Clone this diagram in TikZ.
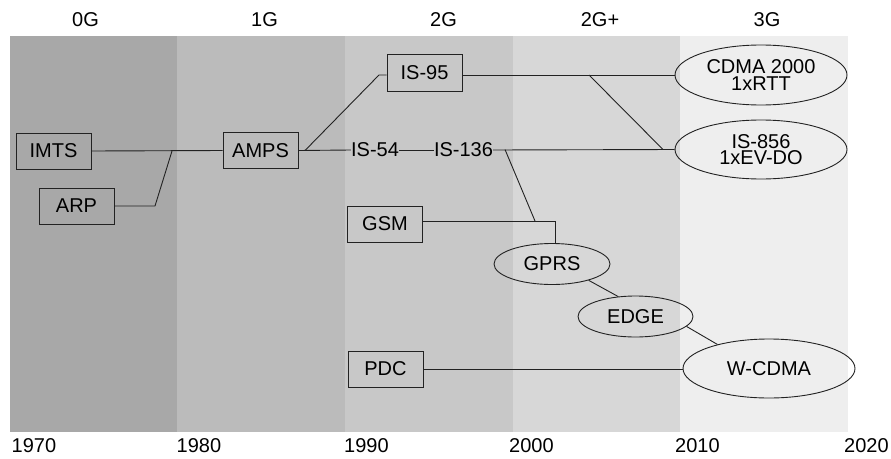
\documentclass[tikz,border=0pt]{standalone}
\usepackage{fontspec}
\setmainfont{Liberation Sans}
\usetikzlibrary{shapes.geometric}
\definecolor{bandA}{HTML}{A8A8A8}
\definecolor{bandB}{HTML}{BBBBBB}
\definecolor{bandC}{HTML}{C8C8C8}
\definecolor{bandD}{HTML}{D7D7D7}
\definecolor{bandE}{HTML}{EEEEEE}
\definecolor{edgecol}{HTML}{222222}
\tikzset{
  txt/.style={font=\fontsize{20}{16.6}\selectfont, inner sep=0pt, align=center},
  tbox/.style={txt, draw=edgecol, line width=0.9pt, rectangle, minimum width=75pt, minimum height=36pt},
  tell/.style={txt, draw=edgecol, line width=0.9pt, ellipse},
  conn/.style={draw=edgecol, line width=0.9pt},
}
\begin{document}
\begin{tikzpicture}[x=1pt,y=-1pt]
\useasboundingbox (0,0) rectangle (891,458);
\fill[white] (0,0) rectangle (891,458);
% bands
\fill[bandA] (10,36) rectangle (177,432);
\fill[bandB] (177,36) rectangle (345,432);
\fill[bandC] (345,36) rectangle (513,432);
\fill[bandD] (513,36) rectangle (680,432);
\fill[bandE] (680,36) rectangle (848,432);
% headers
\node[txt] (h0) at (85.5,20) {0G};
\node[txt] (h1) at (264.5,20) {1G};
\node[txt] (h2) at (443.5,20) {2G};
\node[txt] (h3) at (600,20) {2G+};
\node[txt] (h4) at (767,20) {3G};
% years
\node[txt,anchor=west] (y1) at (11.5,446) {1970};
\node[txt,anchor=west] (y2) at (176.5,446) {1980};
\node[txt,anchor=west] (y3) at (344,446) {1990};
\node[txt,anchor=west] (y4) at (509,446) {2000};
\node[txt,anchor=west] (y5) at (675,446) {2010};
\node[txt,anchor=west] (y6) at (844,446) {2020};
% nodes
\node[tbox] (imts) at (53.5,151) {IMTS};
\node[tbox] (arp) at (76.5,206) {ARP};
\node[tbox] (amps) at (260.5,150.5) {AMPS};
\node[tbox, minimum height=37pt] (is95) at (424.5,72.5) {IS-95};
\node[txt] (is54) at (375,150) {IS-54};
\node[txt] (is136) at (463.5,150) {IS-136};
\node[tbox] (gsm) at (385,224) {GSM};
\node[tbox] (pdc) at (385.5,369) {PDC};
\node[tell, minimum width=116pt, minimum height=41pt] (gprs) at (552,264) {GPRS};
\node[tell, minimum width=115pt, minimum height=41pt] (edge) at (635.5,316.5) {EDGE};
\node[tell, minimum width=172pt, minimum height=59pt] (wcdma) at (769,368.5) {W-CDMA};
\node[tell, minimum width=172pt, minimum height=60pt] (cdma) at (761,75) {CDMA 2000\\1xRTT};
\node[tell, minimum width=172pt, minimum height=59pt] (is856) at (761,149.5) {IS-856\\1xEV-DO};
% junction coordinates
\coordinate (j1) at (172,151);
\coordinate (j2) at (155,206);
\coordinate (a1) at (305,150.5);
\coordinate (a2) at (379,75);
\coordinate (d1) at (589,75);
\coordinate (d2) at (663,149.5);
\coordinate (g1) at (505,149.5);
\coordinate (g2) at (535,221);
\coordinate (j3) at (555,221);
% connectors
\draw[conn] (imts.east) -- (amps.west);
\draw[conn] (arp.east) -- (j2) -- (j1);
\draw[conn] (amps.east) -- (a1) -- (a2) -- (is95.west |- a2);
\draw[conn] (amps.east) -- (is54.west);
\draw[conn] (is54.east) -- (is136.west);
\draw[conn] (is136.east) -- (is856.west);
\draw[conn] (is95.east |- cdma.west) -- (cdma.west);
\draw[conn] (d1) -- (d2);
\draw[conn] (g1) -- (g2);
\draw[conn] (gsm.east |- j3) -- (j3) -- (j3 |- gprs.north);
\draw[conn] (gprs.-24.6) -- (edge.131.9);
\draw[conn] (edge.-11.7) -- (wcdma.155.3);
\draw[conn] (pdc.east) -- (pdc.east -| wcdma.west);
\end{tikzpicture}
\end{document}
